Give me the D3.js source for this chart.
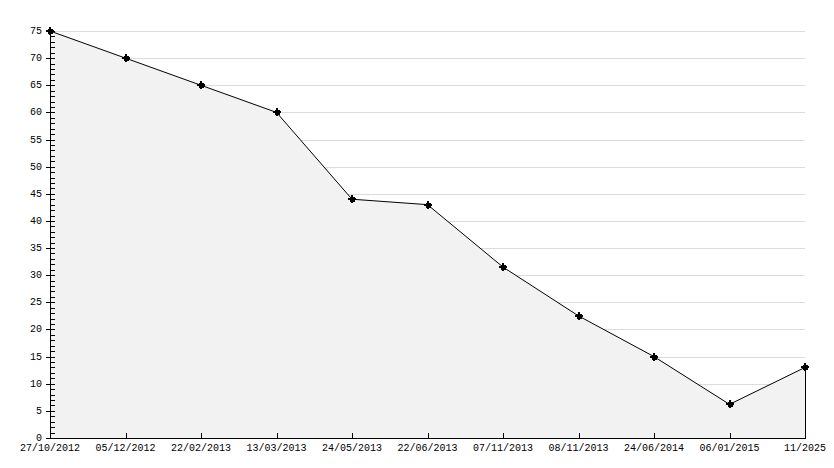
<!DOCTYPE html>
<html>
<head>
<meta charset="utf-8">
<script src="https://cdn.jsdelivr.net/npm/d3@7"></script>
<style>
body { margin: 0; background: #fff; }
text { font-family: "Liberation Mono", "DejaVu Sans Mono", monospace; font-size: 10px; fill: #000; }
</style>
</head>
<body>
<div id="chart"></div>
<script>
var dates = ["27/10/2012", "05/12/2012", "22/02/2013", "13/03/2013", "24/05/2013", "22/06/2013",
	"07/11/2013", "08/11/2013", "24/06/2014", "06/01/2015", "11/2025"];
var values = [75, 70, 65, 60, 44, 43, 31.5, 22.5, 15, 6.2, 13];
var yTicks = [0, 5, 10, 15, 20, 25, 30, 35, 40, 45, 50, 55, 60, 65, 70, 75];

function init(){
	var w = 834;
	var h = 468;
	var padL = 50, padR = 805, padT = 31, padB = 438;

	var svg = d3.select("#chart")
		.append("svg")
		.attr("width", w)
		.attr("height", h);

	var x = d3.scalePoint().domain(dates).range([padL, padR]);
	var y = d3.scaleLinear().domain([0, 75]).range([padB, padT]);

	// gridlines
	svg.selectAll("line.grid")
		.data(yTicks.filter(function(d){ return d > 0; }))
		.enter()
		.append("line")
		.attr("class", "grid")
		.attr("x1", padL).attr("x2", padR)
		.attr("y1", function(d){ return Math.round(y(d)) + 0.5; })
		.attr("y2", function(d){ return Math.round(y(d)) + 0.5; })
		.attr("stroke", "#dcdcdc");

	var data = dates.map(function(d, i){ return {date: d, value: values[i]}; });

	// area
	var area = d3.area()
		.x(function(d){ return x(d.date); })
		.y0(padB)
		.y1(function(d){ return y(d.value); });

	svg.append("path")
		.datum(data)
		.attr("d", area)
		.attr("fill", "#f2f2f2");

	var line = d3.line()
		.x(function(d){ return x(d.date); })
		.y(function(d){ return y(d.value); });

	svg.append("path")
		.datum(data)
		.attr("d", line)
		.attr("fill", "none")
		.attr("stroke", "#000")
		.attr("stroke-width", 1);

	// right edge of the area
	var last = data[data.length - 1];
	svg.append("line")
		.attr("x1", x(last.date) + 0.5)
		.attr("x2", x(last.date) + 0.5)
		.attr("y1", y(last.value))
		.attr("y2", padB)
		.attr("stroke", "#000");

	// y axis
	var gy = svg.append("g");
	gy.append("line")
		.attr("x1", padL + 0.5).attr("x2", padL + 0.5)
		.attr("y1", padT).attr("y2", padB + 0.5)
		.attr("stroke", "#000");
	gy.selectAll("line.minor")
		.data(d3.range(0, 76))
		.enter()
		.append("line")
		.attr("class", "minor")
		.attr("x1", function(d){ return d % 5 === 0 ? padL - 4 : padL; })
		.attr("x2", padL + 5)
		.attr("y1", function(d){ return Math.round(y(d)) + 0.5; })
		.attr("y2", function(d){ return Math.round(y(d)) + 0.5; })
		.attr("stroke", "#000");
	gy.selectAll("text")
		.data(yTicks)
		.enter()
		.append("text")
		.attr("x", padL - 8)
		.attr("y", function(d){ return y(d) + 3; })
		.attr("text-anchor", "end")
		.text(function(d){ return d; });

	// x axis
	var gx = svg.append("g");
	gx.append("line")
		.attr("x1", padL).attr("x2", padR + 1)
		.attr("y1", padB + 0.5).attr("y2", padB + 0.5)
		.attr("stroke", "#000");
	gx.selectAll("line.tick")
		.data(dates)
		.enter()
		.append("line")
		.attr("class", "tick")
		.attr("x1", function(d){ return Math.round(x(d)) + 0.5; })
		.attr("x2", function(d){ return Math.round(x(d)) + 0.5; })
		.attr("y1", padB - 5).attr("y2", padB)
		.attr("stroke", "#000");
	gx.selectAll("text")
		.data(dates)
		.enter()
		.append("text")
		.attr("x", function(d){ return x(d); })
		.attr("y", padB + 13)
		.attr("text-anchor", "middle")
		.text(function(d){ return d; });

	// markers: small star made of a cross and a square
	svg.selectAll("path.marker")
		.data(data)
		.enter()
		.append("path")
		.attr("class", "marker")
		.attr("d", d3.symbol().type(d3.symbolCross).size(30))
		.attr("transform", function(d){ return "translate(" + Math.round(x(d.date)) + "," + Math.round(y(d.value)) + ")"; })
		.attr("shape-rendering", "crispEdges")
		.attr("fill", "#000");
	svg.selectAll("rect.marker")
		.data(data)
		.enter()
		.append("rect")
		.attr("class", "marker")
		.attr("x", function(d){ return Math.round(x(d.date)) - 2; })
		.attr("y", function(d){ return Math.round(y(d.value)) - 2; })
		.attr("width", 5).attr("height", 5)
		.attr("shape-rendering", "crispEdges")
		.attr("fill", "#000");
}
window.onload = init;
</script>
</body>
</html>
